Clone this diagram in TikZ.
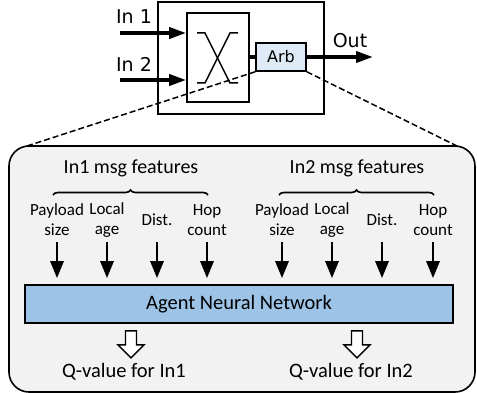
\documentclass[tikz,border=0pt]{standalone}
\usepackage{fontspec}
\setmainfont{Carlito}
\newfontfamily\dejavu{DejaVu Sans}
\usetikzlibrary{arrows.meta,decorations.pathreplacing,calc}
\definecolor{panelgray}{HTML}{F2F2F2}
\definecolor{annblue}{HTML}{9DC3E6}
\definecolor{arbblue}{HTML}{DEEBF7}
\begin{document}
\begin{tikzpicture}[x=1pt,y=-1pt,
  box/.style={draw, line width=1.6pt, inner sep=0pt},
  toplabel/.style={font=\dejavu\fontsize{19}{22}\selectfont, inner sep=0pt},
  thickarrow/.style={line width=3.6pt, -{Triangle[width=11pt,length=17pt]}},
  featarrow/.style={line width=2.8pt, -{Triangle[width=13pt,length=17pt]}},
  feat/.style={font=\fontsize{17}{20}\selectfont, align=center, inner sep=0pt},
  head/.style={font=\fontsize{20}{22}\selectfont, inner sep=0pt},
  qlabel/.style={font=\fontsize{20.5}{22}\selectfont, inner sep=0pt},
  dashline/.style={line width=1.5pt, dash pattern=on 6pt off 3pt},
  hollow/.style={draw, line width=1.4pt, fill=white, line join=miter},
  bracestyle/.style={line width=1.6pt, decorate, decoration={brace, amplitude=5pt}}
]
\useasboundingbox (0,0) rectangle (477,393);

% router with crossbar and arbiter
\node[box, minimum width=166, minimum height=112] (router) at (241,58) {};
\node[box, minimum width=62, minimum height=89] (xbar) at (218,57.5) {};
\node[box, fill=arbblue, minimum width=50, minimum height=28,
      font=\dejavu\fontsize{16}{18}\selectfont] (arb) at (281,57) {Arb};
\draw[line width=1.5pt] (197,33) -- (205,33) -- (230,83) -- (238,83);
\draw[line width=1.5pt] (238,33) -- (230,33) -- (205,83) -- (197,83);
\draw[line width=4pt] (xbar.east |- arb.west) -- (arb.west);

% inputs and output
\coordinate (in1s) at (120,33);
\coordinate (in2s) at (120,80);
\coordinate (outend) at (373,57);
\node[toplabel] (in1) at (134,17) {In 1};
\node[toplabel] (in2) at (134,64) {In 2};
\node[toplabel] (out) at (350,41) {Out};
\draw[thickarrow] (in1s) -- (xbar.west |- in1s);
\draw[thickarrow] (in2s) -- (xbar.west |- in2s);
\draw[thickarrow] (arb.east) -- (outend);

% zoomed-in arbiter panel
\node[draw, line width=1.6pt, fill=panelgray, rounded corners=20pt,
      minimum width=466, minimum height=246, inner sep=0pt] (panel) at (242,269) {};
\coordinate (zl) at (27,146);
\coordinate (zr) at (457,146);
\draw[dashline] (arb.south west) -- (zl);
\draw[dashline] (arb.south east) -- (zr);

% feature group headings and braces
\node[head] (h1) at (131,168) {In1 msg features};
\node[head] (h2) at (357,168) {In2 msg features};
\coordinate (b1l) at (53,195);
\coordinate (b1r) at (208,195);
\coordinate (b2l) at (279,195);
\coordinate (b2r) at (434,195);
\draw[bracestyle] (b1l) -- (b1r);
\draw[bracestyle] (b2l) -- (b2r);

% individual features
\node[feat] (f1) at (57,220) {Payload\\size};
\node[feat] (f2) at (107,220) {Local\\age};
\node[feat] (f3) at (157,220) {Dist.};
\node[feat] (f4) at (207,220) {Hop\\count};
\node[feat] (f5) at (282,220) {Payload\\size};
\node[feat] (f6) at (332,220) {Local\\age};
\node[feat] (f7) at (382,220) {Dist.};
\node[feat] (f8) at (433,220) {Hop\\count};

% agent network
\node[box, fill=annblue, minimum width=428, minimum height=38,
      font=\fontsize{20.5}{22}\selectfont] (ann) at (239,304) {Agent Neural Network};

\coordinate (arrtop) at (0,242);
\foreach \f in {f1,f2,f3,f4,f5,f6,f7,f8}
  \draw[featarrow, shorten >=6pt] (\f |- arrtop) -- (\f |- ann.north);

% outputs
\node[qlabel] (q1) at (124,372) {Q-value for In1};
\node[qlabel] (q2) at (351,372) {Q-value for In2};
\coordinate (o1) at (131,0);
\coordinate (o2) at (357,0);
\foreach \o in {o1,o2}
  \draw[hollow] ($(\o |- ann.south)+(-5.5,7)$) -- ++(11,0) -- ++(0,14) -- ++(7.5,0)
    -- ++(-13,13) -- ++(-13,-13) -- ++(7.5,0) -- cycle;
\end{tikzpicture}
\end{document}
